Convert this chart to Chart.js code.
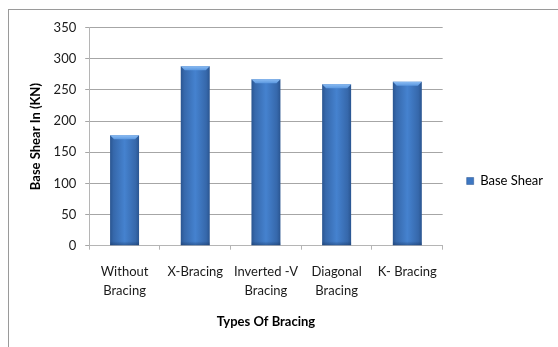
<!DOCTYPE html>
<html>
<head>
<meta charset="utf-8">
<script src="https://cdn.jsdelivr.net/npm/chart.js@4.4.1/dist/chart.umd.min.js"></script>
<style>
  html, body { margin: 0; padding: 0; background: #ffffff; }
  #wrap { position: relative; width: 558px; height: 347px; overflow: hidden; }
  #frame { position: absolute; left: 8px; top: 9px; width: 600px; height: 400px;
           border-left: 1.5px solid #9a9a9a; border-top: 1.5px solid #9a9a9a; }
  canvas { position: absolute; left: 0; top: 0; }
</style>
</head>
<body>
<div id="wrap">
  <div id="frame"></div>
  <canvas id="chart" width="558" height="347"></canvas>
</div>
<script>
// Base shear for each bracing system
const categories = [["Without", "Bracing"], "X-Bracing", ["Inverted -V", "Bracing"], ["Diagonal", "Bracing"], "K- Bracing"];
const baseShear = [177, 288, 267, 259, 263];
const yTicks = [0, 50, 100, 150, 200, 250, 300, 350];

const FONT = "Lato, 'Open Sans', sans-serif";
const SIZE = 13;

// horizontal shading across each bar, dark at the sides and bright in the middle
function barGradient(ctx) {
  const chart = ctx.chart;
  const xs = chart.scales.x;
  if (!xs || !chart.chartArea) return '#3d77c2';
  const cx = xs.getPixelForValue(ctx.dataIndex);
  const half = (chart.chartArea.width / categories.length) * 0.41 / 2;
  const g = chart.ctx.createLinearGradient(cx - half, 0, cx + half, 0);
  g.addColorStop(0, '#2a5590');
  g.addColorStop(0.12, '#3668ab');
  g.addColorStop(0.5, '#4582cf');
  g.addColorStop(0.88, '#3668ab');
  g.addColorStop(1, '#2a5590');
  return g;
}

// bevelled top and darker foot on every bar
const bevel = {
  id: 'bevel',
  afterDatasetsDraw(chart) {
    const c = chart.ctx;
    chart.getDatasetMeta(0).data.forEach(bar => {
      const {x, y, base, width} = bar.getProps(['x', 'y', 'base', 'width'], true);
      const l = x - width / 2, r = x + width / 2;
      const d = 4;
      c.save();
      const g = c.createLinearGradient(0, y, 0, y + d);
      g.addColorStop(0, '#8bbcf3');
      g.addColorStop(1, '#5b98e0');
      c.fillStyle = g;
      c.beginPath();
      c.moveTo(l, y);
      c.lineTo(r, y);
      c.lineTo(r - d, y + d);
      c.lineTo(l + d, y + d);
      c.closePath();
      c.fill();
      const f = c.createLinearGradient(0, base - 4, 0, base);
      f.addColorStop(0, 'rgba(20,50,95,0)');
      f.addColorStop(1, 'rgba(20,50,95,0.45)');
      c.fillStyle = f;
      c.fillRect(l, base - 4, width, 4);
      c.restore();
    });
  }
};

new Chart(document.getElementById('chart'), {
  type: 'bar',
  data: {
    labels: categories,
    datasets: [{
      label: 'Base Shear',
      data: baseShear,
      backgroundColor: barGradient,
      borderWidth: 0,
      categoryPercentage: 1,
      barPercentage: 0.41
    }]
  },
  options: {
    responsive: false,
    animation: false,
    devicePixelRatio: 1,
    layout: { padding: { left: 25, right: 5, top: 27.5, bottom: 12.5 } },
    plugins: {
      tooltip: { enabled: false },
      legend: {
        position: 'right',
        labels: {
          boxWidth: 7, boxHeight: 7, padding: 24,
          color: '#1a1a1a',
          font: { family: FONT, size: SIZE },
          generateLabels(chart) {
            return [{ text: 'Base Shear', fillStyle: '#3d77c2', strokeStyle: '#2a5590', lineWidth: 0.5, datasetIndex: 0 }];
          }
        }
      }
    },
    scales: {
      x: {
        grid: { display: true, drawOnChartArea: false, drawTicks: true, tickLength: 4, color: '#b5b5b5', offset: true },
        border: { color: '#b5b5b5', width: 1 },
        ticks: { color: '#1a1a1a', padding: 12, maxRotation: 0, autoSkip: false,
                 font: { family: FONT, size: SIZE, lineHeight: 1.5 } },
        title: { display: true, text: 'Types Of Bracing', color: '#000000',
                 font: { family: FONT, size: SIZE, weight: 'bold' }, padding: { top: 1.6, bottom: 4.6 } }
      },
      y: {
        min: 0, max: 350,
        afterBuildTicks(scale) { scale.ticks = yTicks.map(v => ({ value: v })); },
        grid: { color: '#a6a6a6', tickLength: 4 },
        border: { color: '#b5b5b5', width: 1 },
        ticks: { color: '#1a1a1a', padding: 9, font: { family: FONT, size: SIZE } },
        title: { display: true, text: 'Base Shear In (KN)', color: '#000000',
                 font: { family: FONT, size: SIZE, weight: 'bold' }, padding: { top: 3, bottom: 1 } }
      }
    }
  },
  plugins: [bevel]
});
</script>
</body>
</html>
